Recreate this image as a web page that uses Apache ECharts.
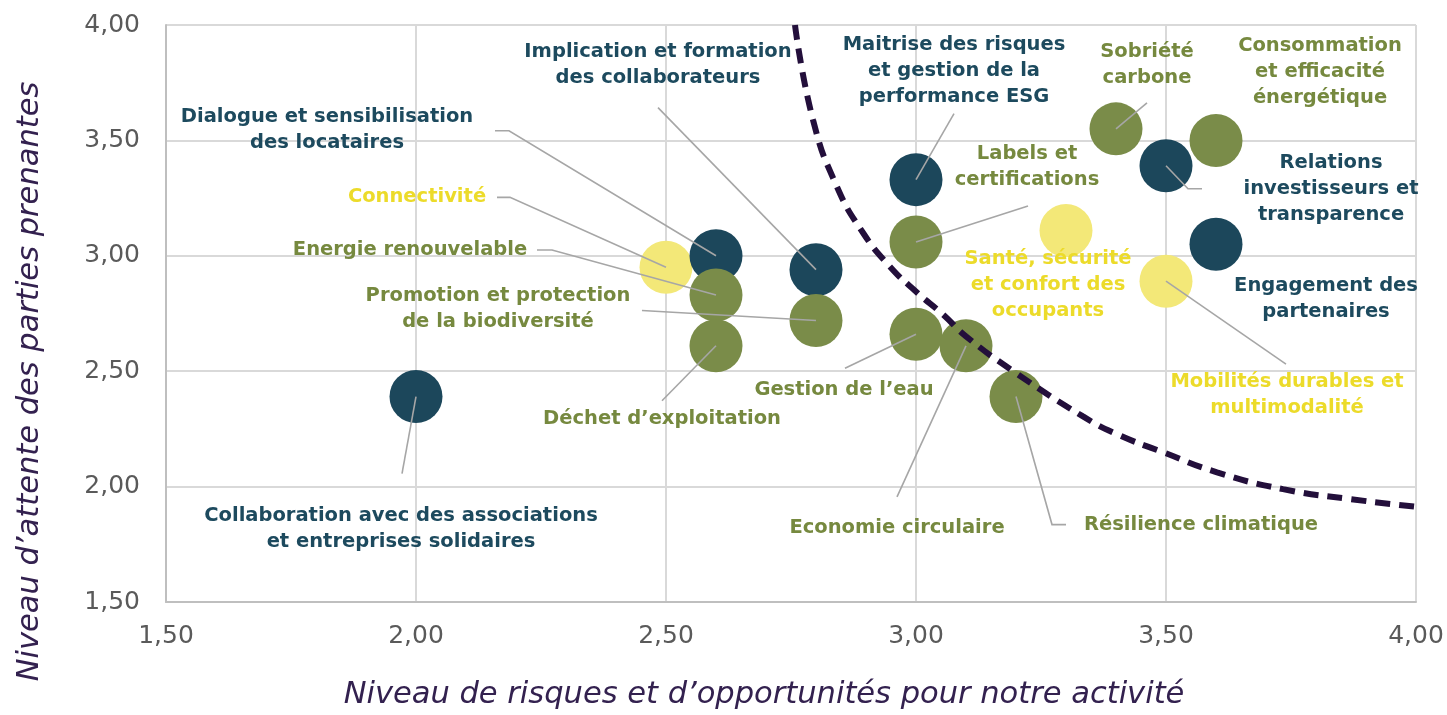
<!DOCTYPE html>
<html><head><meta charset="utf-8">
<script src="https://cdn.jsdelivr.net/npm/echarts@6/dist/echarts.min.js"></script>
<style>html,body{margin:0;padding:0;background:#fff}#c{width:1447px;height:715px}</style>
</head><body><div id="c"></div>
<script>
// ---- data ----
const groups = ["Environnement", "Social", "Gouvernance"];
const names = [
  "Collaboration avec des associations\net entreprises solidaires",
  "Connectivité",
  "Dialogue et sensibilisation\ndes locataires",
  "Energie renouvelable",
  "Déchet d’exploitation",
  "Implication et formation\ndes collaborateurs",
  "Promotion et protection\nde la biodiversité",
  "Maitrise des risques\net gestion de la\nperformance ESG",
  "Labels et\ncertifications",
  "Gestion de l’eau",
  "Economie circulaire",
  "Résilience climatique",
  "Santé, sécurité\net confort des\noccupants",
  "Sobriété\ncarbone",
  "Relations\ninvestisseurs et\ntransparence",
  "Consommation\net efficacité\nénergétique",
  "Engagement des\npartenaires",
  "Mobilités durables et\nmultimodalité"
];
const riskValues = [2.00, 2.50, 2.60, 2.60, 2.60, 2.80, 2.80, 3.00, 3.00, 3.00, 3.10, 3.20, 3.30, 3.40, 3.50, 3.60, 3.60, 3.50];
const expectValues = [2.39, 2.95, 3.00, 2.83, 2.61, 2.94, 2.72, 3.33, 3.06, 2.66, 2.61, 2.39, 3.11, 3.55, 3.39, 3.50, 3.05, 2.89];
const groupOf = ["Gouvernance","Social","Gouvernance","Environnement","Environnement","Gouvernance","Environnement","Gouvernance","Environnement","Environnement","Environnement","Environnement","Social","Environnement","Gouvernance","Environnement","Gouvernance","Social"];
// materiality threshold curve
const curveX = [2.758, 2.794, 2.842, 2.894, 2.948, 3.002, 3.054, 3.100, 3.198, 3.334, 3.402, 3.494, 3.602, 3.734, 3.868, 4.000];
const curveY = [4.000, 3.589, 3.299, 3.100, 2.953, 2.841, 2.746, 2.651, 2.495, 2.304, 2.227, 2.149, 2.062, 1.989, 1.946, 1.913];
const axisTicks = [1.5, 2.0, 2.5, 3.0, 3.5, 4.0];
const xTitle = "Niveau de risques et d’opportunités pour notre activité";
const yTitle = "Niveau d’attente des parties prenantes";

// ---- styles ----
const bubbleColor = { Environnement: "#7a8c49", Social: "#f3e878", Gouvernance: "#1c475b" };
const textColor = { Environnement: "#76893f", Social: "#ecdb2a", Gouvernance: "#1d4a5e" };
// label layout: text centre offset [dx,dy] and leader line points (offsets from bubble centre)
const labelLayout = [
  { t: [-15, 132], l: [[-14, 77]] },
  { t: [-249, -70], l: [[-156, -70], [-169, -70]] },
  { t: [-389, -126], l: [[-207, -125], [-221, -125]] },
  { t: [-306, -45], l: [[-164, -45], [-179, -45]] },
  { t: [-54, 73], l: [[-54, 55]] },
  { t: [-158, -205], l: [[-158, -162]] },
  { t: [-318, -11], l: [[-174, -10]] },
  { t: [38, -109], l: [[38, -66]] },
  { t: [111, -75], l: [[112, -36]] },
  { t: [-72, 56], l: [[-71, 34]] },
  { t: [-69, 182], l: [[-69, 151]] },
  { t: [185, 128], l: [[36, 128], [50, 128]] },
  { t: [-18, 55], l: [] },
  { t: [31, -64], l: [[31, -26]] },
  { t: [165, 23], l: [[22, 23], [36, 23]] },
  { t: [104, -68], l: [] },
  { t: [110, 55], l: [] },
  { t: [121, 114], l: [[120, 83]] }
];

const fmt = v => v.toFixed(2).replace('.', ',');
const scatterData = riskValues.map((x, i) => ({
  value: [x, expectValues[i]],
  itemStyle: { color: bubbleColor[groupOf[i]], opacity: 1 }
}));
const labelData = riskValues.map((x, i) => [x, expectValues[i], i]);
const curveData = curveX.map((x, i) => [x, curveY[i]]);

const chart = echarts.init(document.getElementById('c'), null, { renderer: 'canvas' });
const axisCommon = {
  type: 'value', min: axisTicks[0], max: axisTicks[axisTicks.length - 1], interval: 0.5,
  axisLine: { show: true, lineStyle: { color: '#bfbfbf', width: 2 } },
  axisTick: { show: false },
  splitLine: { show: true, lineStyle: { color: '#d9d9d9', width: 2 } },
  axisLabel: { color: '#5a5a5a', fontSize: 25, fontFamily: 'DejaVu Sans', formatter: fmt },
  nameLocation: 'middle'
};
const nameStyle = { color: '#33214f', fontSize: 30.5, fontStyle: 'italic', fontFamily: 'DejaVu Sans' };
chart.setOption({
  animation: false,
  grid: { left: 166, right: 31, top: 25, bottom: 112 },
  xAxis: Object.assign({}, axisCommon, { name: xTitle, nameGap: 78,
    nameTextStyle: Object.assign({}, nameStyle, { padding: [0, 54, 0, 0] }),
    axisLabel: Object.assign({}, axisCommon.axisLabel, { margin: 22 }) }),
  yAxis: Object.assign({}, axisCommon, { name: yTitle, nameGap: 121,
    nameTextStyle: Object.assign({}, nameStyle, { padding: [0, 136, 0, 0] }),
    axisLabel: Object.assign({}, axisCommon.axisLabel, { margin: 26 }) }),
  series: [
    { type: 'scatter', data: scatterData, symbolSize: 53, z: 2 },
    { type: 'line', data: curveData, smooth: true, showSymbol: false, z: 3,
      lineStyle: { color: '#230f3b', width: 6, type: [15, 9] } },
    { type: 'custom', data: labelData, z: 4,
      renderItem: function (params, api) {
        const i = api.value(2);
        const c = api.coord([api.value(0), api.value(1)]);
        const L = labelLayout[i];
        const children = [];
        if (L.l.length) {
          const pts = [c].concat(L.l.map(p => [c[0] + p[0], c[1] + p[1]]));
          children.push({ type: 'polyline', shape: { points: pts }, style: { stroke: '#a6a6a6', lineWidth: 1.6, fill: null } });
        }
        children.push({ type: 'text', x: c[0] + L.t[0], y: c[1] + L.t[1],
          style: { text: names[i], fill: textColor[groupOf[i]], font: 'bold 19.5px "DejaVu Sans"',
                   align: 'center', verticalAlign: 'middle', lineHeight: 26 } });
        return { type: 'group', children: children };
      } }
  ]
});
</script></body></html>
